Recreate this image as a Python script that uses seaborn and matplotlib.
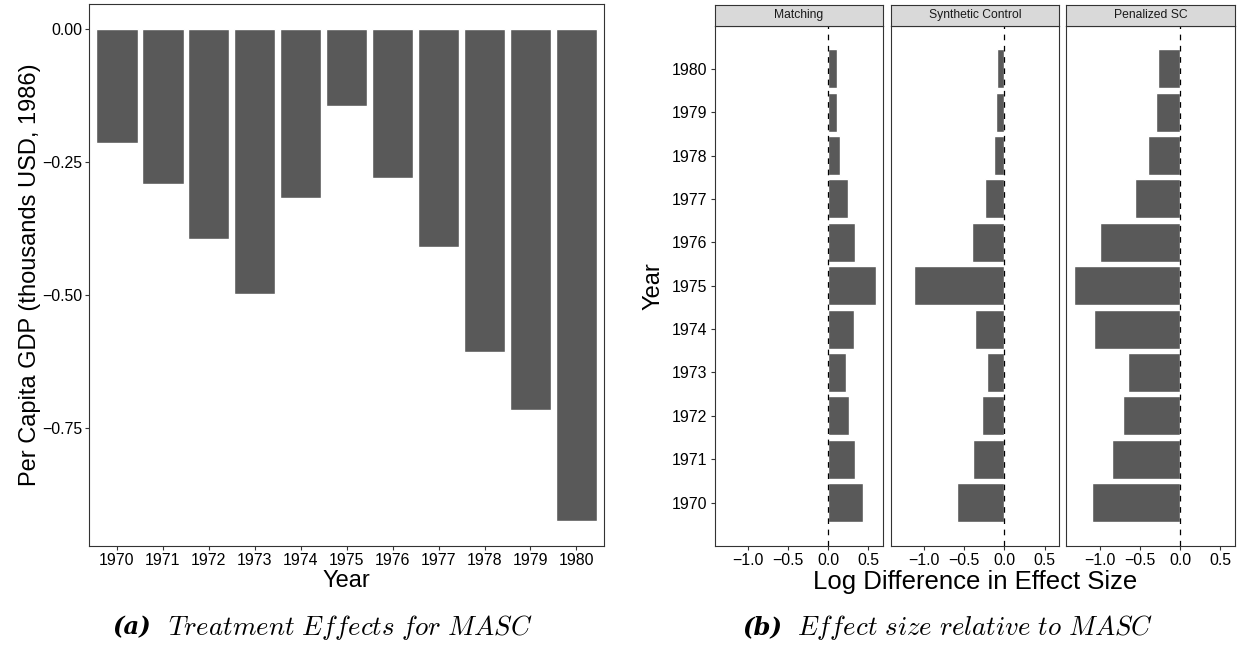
import matplotlib
matplotlib.use("Agg")
import matplotlib.pyplot as plt
from matplotlib.ticker import FuncFormatter
import numpy as np
import pandas as pd
import seaborn as sns

# ---- data -------------------------------------------------------------
years = [1970, 1971, 1972, 1973, 1974, 1975, 1976, 1977, 1978, 1979, 1980]
masc_effect = [-0.215, -0.292, -0.395, -0.498, -0.318, -0.145,
               -0.280, -0.410, -0.607, -0.716, -0.925]

methods = ["Matching", "Synthetic Control", "Penalized SC"]
matching_diff = [0.429, 0.329, 0.252, 0.214, 0.314, 0.590,
                 0.338, 0.243, 0.143, 0.114, 0.105]
synth_diff = [-0.585, -0.396, -0.280, -0.217, -0.372, -1.125,
              -0.405, -0.240, -0.130, -0.106, -0.092]
penalized_diff = [-1.100, -0.844, -0.716, -0.645, -1.076, -1.322,
                  -1.000, -0.555, -0.393, -0.300, -0.270]

left_yticks = [0.0, -0.25, -0.50, -0.75]
right_xticks = [-1.0, -0.5, 0.0, 0.5]

left_caption = ("(a)", r"$\mathit{Treatment\ Effects\ for\ MASC}$")
right_caption = ("(b)", r"$\mathit{Effect\ size\ relative\ to\ MASC}$")

# ---- styling ----------------------------------------------------------
sns.set_theme(style="ticks")
plt.rcParams["font.family"] = ["Liberation Sans", "DejaVu Sans"]
plt.rcParams["mathtext.fontset"] = "cm"
plt.rcParams["text.color"] = "black"

BAR = "#595959"
FRAME = "#333333"
STRIP = "#D9D9D9"
TICK_PT = 11.4
W, H = 1243, 652

fig = plt.figure(figsize=(W / 100, H / 100), dpi=100)


def px_axes(x0, y0, x1, y1):
    """Axes placed by pixel box (top-left origin)."""
    return fig.add_axes([x0 / W, 1 - y1 / H, (x1 - x0) / W, (y1 - y0) / H])


def frame(ax):
    for s in ax.spines.values():
        s.set_visible(True)
        s.set_color(FRAME)
        s.set_linewidth(0.8)
    ax.tick_params(colors=FRAME, labelcolor="black", length=2.6, width=0.8,
                   labelsize=TICK_PT, pad=2.5, bottom=True, left=True,
                   top=False, right=False)
    ax.grid(False)


def umin(v, fmt):
    s = fmt.format(v)
    return s.replace("-", "\u2212")


# ---- panel (a): treatment effects --------------------------------------
left_df = pd.DataFrame({"Year": [str(y) for y in years], "Effect": masc_effect})
axL = px_axes(89.3, 4.3, 604, 545.7)
sns.barplot(data=left_df, x="Year", y="Effect", color=BAR, saturation=1,
            width=0.9, errorbar=None, ax=axL)
lo, hi = min(masc_effect + [0]), max(masc_effect + [0])
pad = (hi - lo) * 0.05
axL.set_ylim(lo - pad, hi + pad)
axL.set_xlim(-0.6, len(years) - 0.4)
axL.set_yticks(left_yticks)
axL.yaxis.set_major_formatter(FuncFormatter(lambda v, p: umin(v, "{:.2f}")))
axL.set_xlabel("")
axL.set_ylabel("")
frame(axL)
fig.text(30 / W, 1 - 275 / H, "Per Capita GDP (thousands USD, 1986)",
         rotation=90, ha="center", va="center", fontsize=17)
fig.text(346.6 / W, 1 - 581 / H, "Year", ha="center", va="center", fontsize=17)

# ---- panel (b): log difference by method -------------------------------
long_df = pd.DataFrame({
    "Year": years * 3,
    "Diff": matching_diff + synth_diff + penalized_diff,
    "Method": np.repeat(methods, len(years)),
})
all_vals = long_df["Diff"].tolist() + [0]
xlo, xhi = min(all_vals), max(all_vals)
xpad = (xhi - xlo) * 0.05
ylo, yhi = min(years) - 0.45, max(years) + 0.45
ypad = (yhi - ylo) * 0.05

facet_x = [(714.5, 883.4), (890.7, 1059.4), (1066.3, 1235.0)]
for i, (method, (x0, x1)) in enumerate(zip(methods, facet_x)):
    ax = px_axes(x0, 25.7, x1, 545.7)
    sub = long_df[long_df["Method"] == method]
    sns.barplot(data=sub, x="Diff", y="Year", orient="h", native_scale=True,
                color=BAR, saturation=1, width=0.9, errorbar=None, ax=ax)
    ax.axvline(0, color="black", linewidth=0.9, linestyle=(0, (4.5, 4.5)),
               zorder=5)
    ax.set_xlim(xlo - xpad, xhi + xpad)
    ax.set_ylim(ylo - ypad, yhi + ypad)
    ax.set_xticks(right_xticks)
    ax.xaxis.set_major_formatter(FuncFormatter(lambda v, p: umin(v, "{:.1f}")))
    ax.set_yticks(years)
    ax.yaxis.set_major_formatter(FuncFormatter(lambda v, p: f"{int(round(v))}"))
    ax.set_xlabel("")
    ax.set_ylabel("")
    frame(ax)
    if i > 0:
        ax.tick_params(axis="y", left=False, labelleft=False)

    # facet strip
    st = px_axes(x0, 4.7, x1, 25.7)
    st.set_facecolor(STRIP)
    st.set_xticks([])
    st.set_yticks([])
    for s in st.spines.values():
        s.set_visible(True)
        s.set_color(FRAME)
        s.set_linewidth(0.8)
    st.text(0.5, 0.5, method, ha="center", va="center", fontsize=8.7,
            color="#1A1A1A", transform=st.transAxes)

fig.text(653 / W, 1 - 286 / H, "Year", rotation=90, ha="center", va="center",
         fontsize=17)
fig.text(974.8 / W, 1 - 581.7 / H, "Log Difference in Effect Size",
         ha="center", va="center", fontsize=18.5)

# ---- captions ---------------------------------------------------------
for (tag, body), (x_tag, x_body) in zip([left_caption, right_caption],
                                        [(151, 168), (782, 797)]):
    fig.text(x_tag / W, 1 - 627 / H, tag, ha="right", va="center",
             family="DejaVu Serif", style="italic", weight="bold", fontsize=17.5)
    fig.text(x_body / W, 1 - 627 / H, body, ha="left", va="center", fontsize=19.3)

fig.savefig("out.png", dpi=100)
